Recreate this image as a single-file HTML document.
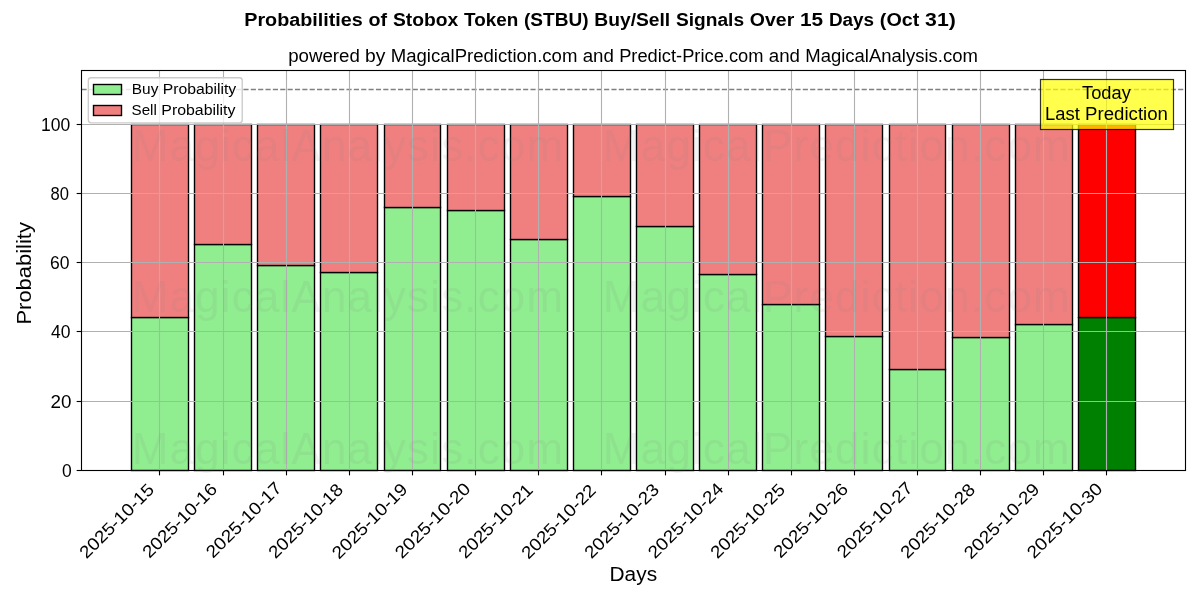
<!DOCTYPE html>
<html><head><meta charset="utf-8"><style>
html,body{margin:0;padding:0;background:#fff;}
svg{display:block;will-change:transform;}
text{font-family:"Liberation Sans", sans-serif;}
</style></head><body>
<svg width="1200" height="600" viewBox="0 0 1200 600">
<rect x="0" y="0" width="1200" height="600" fill="#fff"/>
<rect x="131.5" y="317.5" width="57" height="153" fill="#90ee90" stroke="#000" stroke-width="1.39"/>
<rect x="131.5" y="124.5" width="57" height="193" fill="#f08080" stroke="#000" stroke-width="1.39"/>
<rect x="194.5" y="244.5" width="57" height="226" fill="#90ee90" stroke="#000" stroke-width="1.39"/>
<rect x="194.5" y="124.5" width="57" height="120" fill="#f08080" stroke="#000" stroke-width="1.39"/>
<rect x="257.5" y="265.5" width="57" height="205" fill="#90ee90" stroke="#000" stroke-width="1.39"/>
<rect x="257.5" y="124.5" width="57" height="141" fill="#f08080" stroke="#000" stroke-width="1.39"/>
<rect x="320.5" y="272.5" width="57" height="198" fill="#90ee90" stroke="#000" stroke-width="1.39"/>
<rect x="320.5" y="124.5" width="57" height="148" fill="#f08080" stroke="#000" stroke-width="1.39"/>
<rect x="384.5" y="207.5" width="56" height="263" fill="#90ee90" stroke="#000" stroke-width="1.39"/>
<rect x="384.5" y="124.5" width="56" height="83" fill="#f08080" stroke="#000" stroke-width="1.39"/>
<rect x="447.5" y="210.5" width="57" height="260" fill="#90ee90" stroke="#000" stroke-width="1.39"/>
<rect x="447.5" y="124.5" width="57" height="86" fill="#f08080" stroke="#000" stroke-width="1.39"/>
<rect x="510.5" y="239.5" width="57" height="231" fill="#90ee90" stroke="#000" stroke-width="1.39"/>
<rect x="510.5" y="124.5" width="57" height="115" fill="#f08080" stroke="#000" stroke-width="1.39"/>
<rect x="573.5" y="196.5" width="57" height="274" fill="#90ee90" stroke="#000" stroke-width="1.39"/>
<rect x="573.5" y="124.5" width="57" height="72" fill="#f08080" stroke="#000" stroke-width="1.39"/>
<rect x="636.5" y="226.5" width="57" height="244" fill="#90ee90" stroke="#000" stroke-width="1.39"/>
<rect x="636.5" y="124.5" width="57" height="102" fill="#f08080" stroke="#000" stroke-width="1.39"/>
<rect x="699.5" y="274.5" width="57" height="196" fill="#90ee90" stroke="#000" stroke-width="1.39"/>
<rect x="699.5" y="124.5" width="57" height="150" fill="#f08080" stroke="#000" stroke-width="1.39"/>
<rect x="762.5" y="304.5" width="57" height="166" fill="#90ee90" stroke="#000" stroke-width="1.39"/>
<rect x="762.5" y="124.5" width="57" height="180" fill="#f08080" stroke="#000" stroke-width="1.39"/>
<rect x="825.5" y="336.5" width="57" height="134" fill="#90ee90" stroke="#000" stroke-width="1.39"/>
<rect x="825.5" y="124.5" width="57" height="212" fill="#f08080" stroke="#000" stroke-width="1.39"/>
<rect x="889.5" y="369.5" width="56" height="101" fill="#90ee90" stroke="#000" stroke-width="1.39"/>
<rect x="889.5" y="124.5" width="56" height="245" fill="#f08080" stroke="#000" stroke-width="1.39"/>
<rect x="952.5" y="337.5" width="57" height="133" fill="#90ee90" stroke="#000" stroke-width="1.39"/>
<rect x="952.5" y="124.5" width="57" height="213" fill="#f08080" stroke="#000" stroke-width="1.39"/>
<rect x="1015.5" y="324.5" width="57" height="146" fill="#90ee90" stroke="#000" stroke-width="1.39"/>
<rect x="1015.5" y="124.5" width="57" height="200" fill="#f08080" stroke="#000" stroke-width="1.39"/>
<rect x="1078.5" y="317.5" width="57" height="153" fill="#008000" stroke="#000" stroke-width="1.39"/>
<rect x="1078.5" y="124.5" width="57" height="193" fill="#ff0000" stroke="#000" stroke-width="1.39"/>
<line x1="81.5" y1="89.5" x2="1185.5" y2="89.5" stroke="#808080" stroke-width="1.39" stroke-dasharray="5.14 2.22"/>
<line x1="159.5" y1="70.5" x2="159.5" y2="470.5" stroke="#b0b0b0" stroke-width="1.11"/>
<line x1="223.5" y1="70.5" x2="223.5" y2="470.5" stroke="#b0b0b0" stroke-width="1.11"/>
<line x1="286.5" y1="70.5" x2="286.5" y2="470.5" stroke="#b0b0b0" stroke-width="1.11"/>
<line x1="349.5" y1="70.5" x2="349.5" y2="470.5" stroke="#b0b0b0" stroke-width="1.11"/>
<line x1="412.5" y1="70.5" x2="412.5" y2="470.5" stroke="#b0b0b0" stroke-width="1.11"/>
<line x1="475.5" y1="70.5" x2="475.5" y2="470.5" stroke="#b0b0b0" stroke-width="1.11"/>
<line x1="538.5" y1="70.5" x2="538.5" y2="470.5" stroke="#b0b0b0" stroke-width="1.11"/>
<line x1="601.5" y1="70.5" x2="601.5" y2="470.5" stroke="#b0b0b0" stroke-width="1.11"/>
<line x1="665.5" y1="70.5" x2="665.5" y2="470.5" stroke="#b0b0b0" stroke-width="1.11"/>
<line x1="728.5" y1="70.5" x2="728.5" y2="470.5" stroke="#b0b0b0" stroke-width="1.11"/>
<line x1="791.5" y1="70.5" x2="791.5" y2="470.5" stroke="#b0b0b0" stroke-width="1.11"/>
<line x1="854.5" y1="70.5" x2="854.5" y2="470.5" stroke="#b0b0b0" stroke-width="1.11"/>
<line x1="917.5" y1="70.5" x2="917.5" y2="470.5" stroke="#b0b0b0" stroke-width="1.11"/>
<line x1="980.5" y1="70.5" x2="980.5" y2="470.5" stroke="#b0b0b0" stroke-width="1.11"/>
<line x1="1043.5" y1="70.5" x2="1043.5" y2="470.5" stroke="#b0b0b0" stroke-width="1.11"/>
<line x1="1106.5" y1="70.5" x2="1106.5" y2="470.5" stroke="#b0b0b0" stroke-width="1.11"/>
<line x1="81.5" y1="470.5" x2="1185.5" y2="470.5" stroke="#b0b0b0" stroke-width="1.11"/>
<line x1="81.5" y1="401.5" x2="1185.5" y2="401.5" stroke="#b0b0b0" stroke-width="1.11"/>
<line x1="81.5" y1="331.5" x2="1185.5" y2="331.5" stroke="#b0b0b0" stroke-width="1.11"/>
<line x1="81.5" y1="262.5" x2="1185.5" y2="262.5" stroke="#b0b0b0" stroke-width="1.11"/>
<line x1="81.5" y1="193.5" x2="1185.5" y2="193.5" stroke="#b0b0b0" stroke-width="1.11"/>
<line x1="81.5" y1="124.5" x2="1185.5" y2="124.5" stroke="#b0b0b0" stroke-width="1.11"/>
<line x1="159.5" y1="470.5" x2="159.5" y2="475.36" stroke="#000" stroke-width="1.11"/>
<line x1="223.5" y1="470.5" x2="223.5" y2="475.36" stroke="#000" stroke-width="1.11"/>
<line x1="286.5" y1="470.5" x2="286.5" y2="475.36" stroke="#000" stroke-width="1.11"/>
<line x1="349.5" y1="470.5" x2="349.5" y2="475.36" stroke="#000" stroke-width="1.11"/>
<line x1="412.5" y1="470.5" x2="412.5" y2="475.36" stroke="#000" stroke-width="1.11"/>
<line x1="475.5" y1="470.5" x2="475.5" y2="475.36" stroke="#000" stroke-width="1.11"/>
<line x1="538.5" y1="470.5" x2="538.5" y2="475.36" stroke="#000" stroke-width="1.11"/>
<line x1="601.5" y1="470.5" x2="601.5" y2="475.36" stroke="#000" stroke-width="1.11"/>
<line x1="665.5" y1="470.5" x2="665.5" y2="475.36" stroke="#000" stroke-width="1.11"/>
<line x1="728.5" y1="470.5" x2="728.5" y2="475.36" stroke="#000" stroke-width="1.11"/>
<line x1="791.5" y1="470.5" x2="791.5" y2="475.36" stroke="#000" stroke-width="1.11"/>
<line x1="854.5" y1="470.5" x2="854.5" y2="475.36" stroke="#000" stroke-width="1.11"/>
<line x1="917.5" y1="470.5" x2="917.5" y2="475.36" stroke="#000" stroke-width="1.11"/>
<line x1="980.5" y1="470.5" x2="980.5" y2="475.36" stroke="#000" stroke-width="1.11"/>
<line x1="1043.5" y1="470.5" x2="1043.5" y2="475.36" stroke="#000" stroke-width="1.11"/>
<line x1="1106.5" y1="470.5" x2="1106.5" y2="475.36" stroke="#000" stroke-width="1.11"/>
<line x1="76.64" y1="470.5" x2="81.5" y2="470.5" stroke="#000" stroke-width="1.11"/>
<line x1="76.64" y1="401.5" x2="81.5" y2="401.5" stroke="#000" stroke-width="1.11"/>
<line x1="76.64" y1="331.5" x2="81.5" y2="331.5" stroke="#000" stroke-width="1.11"/>
<line x1="76.64" y1="262.5" x2="81.5" y2="262.5" stroke="#000" stroke-width="1.11"/>
<line x1="76.64" y1="193.5" x2="81.5" y2="193.5" stroke="#000" stroke-width="1.11"/>
<line x1="76.64" y1="124.5" x2="81.5" y2="124.5" stroke="#000" stroke-width="1.11"/>
<rect x="81.5" y="70.5" width="1104" height="400" fill="none" stroke="#000" stroke-width="1.11"/>
<rect x="1040.5" y="79.5" width="133" height="50" fill="#ffff00" fill-opacity="0.7" stroke="#000" stroke-opacity="0.8" stroke-width="1.2"/>
<rect x="88.35" y="77.78" width="153.88" height="45.06" rx="2.8" fill="#fff" fill-opacity="0.8" stroke="#cccccc" stroke-width="1.39"/>
<rect x="93.5" y="84.5" width="28" height="10" fill="#90ee90" stroke="#000" stroke-width="1.39"/>
<rect x="93.5" y="105.5" width="28" height="10" fill="#f08080" stroke="#000" stroke-width="1.39"/>
<g id="title" fill="#000" font-size="17.5" font-weight="bold">
<text x="244.25" y="25.55" textLength="118.53" lengthAdjust="spacingAndGlyphs">Probabilities</text>
<text x="368.55" y="25.55" textLength="18.62" lengthAdjust="spacingAndGlyphs">of</text>
<text x="392.95" y="25.55" textLength="65.27" lengthAdjust="spacingAndGlyphs">Stobox</text>
<text x="464" y="25.55" textLength="54.18" lengthAdjust="spacingAndGlyphs">Token</text>
<text x="523.96" y="25.55" textLength="64.57" lengthAdjust="spacingAndGlyphs">(STBU)</text>
<text x="594.31" y="25.55" textLength="75.93" lengthAdjust="spacingAndGlyphs">Buy/Sell</text>
<text x="676.01" y="25.55" textLength="68.1" lengthAdjust="spacingAndGlyphs">Signals</text>
<text x="749.89" y="25.55" textLength="44.37" lengthAdjust="spacingAndGlyphs">Over</text>
<text x="800.03" y="25.55" textLength="23.09" lengthAdjust="spacingAndGlyphs">15</text>
<text x="828.9" y="25.55" textLength="45.16" lengthAdjust="spacingAndGlyphs">Days</text>
<text x="879.84" y="25.55" textLength="39.46" lengthAdjust="spacingAndGlyphs">(Oct</text>
<text x="925.08" y="25.55" textLength="30.68" lengthAdjust="spacingAndGlyphs">31)</text>
</g>
<g id="sub" fill="#000" font-size="17.5">
<text x="288.15" y="61.6" textLength="71.66" lengthAdjust="spacingAndGlyphs">powered</text>
<text x="365.09" y="61.6" textLength="20.35" lengthAdjust="spacingAndGlyphs">by</text>
<text x="390.71" y="61.6" textLength="186.67" lengthAdjust="spacingAndGlyphs">MagicalPrediction.com</text>
<text x="582.66" y="61.6" textLength="31.22" lengthAdjust="spacingAndGlyphs">and</text>
<text x="619.15" y="61.6" textLength="144.33" lengthAdjust="spacingAndGlyphs">Predict-Price.com</text>
<text x="768.75" y="61.6" textLength="31.22" lengthAdjust="spacingAndGlyphs">and</text>
<text x="805.25" y="61.6" textLength="172.61" lengthAdjust="spacingAndGlyphs">MagicalAnalysis.com</text>
</g>
<text id="xlabel" x="609.5" y="581" font-size="20.42" textLength="47.58" lengthAdjust="spacingAndGlyphs" fill="#000">Days</text>
<text id="ylabel" transform="translate(31 324.5) rotate(-90)" x="0" y="0" font-size="20.42" textLength="102.38" lengthAdjust="spacingAndGlyphs" fill="#000">Probability</text>
<text id="xt0" transform="translate(86.5 559.5) rotate(-45)" x="0" y="0" font-size="17.5" textLength="97.09" lengthAdjust="spacingAndGlyphs" fill="#000">2025-10-15</text>
<text id="xt1" transform="translate(149.5 559) rotate(-45)" x="0" y="0" font-size="17.5" textLength="97.09" lengthAdjust="spacingAndGlyphs" fill="#000">2025-10-16</text>
<text id="xt2" transform="translate(213 559) rotate(-45)" x="0" y="0" font-size="17.5" textLength="98.88" lengthAdjust="spacingAndGlyphs" fill="#000">2025-10-17</text>
<text id="xt3" transform="translate(275.5 559.5) rotate(-45)" x="0" y="0" font-size="17.5" textLength="97.06" lengthAdjust="spacingAndGlyphs" fill="#000">2025-10-18</text>
<text id="xt4" transform="translate(339 560) rotate(-45)" x="0" y="0" font-size="17.5" textLength="98.56" lengthAdjust="spacingAndGlyphs" fill="#000">2025-10-19</text>
<text id="xt5" transform="translate(402 559.5) rotate(-45)" x="0" y="0" font-size="17.5" textLength="98.5" lengthAdjust="spacingAndGlyphs" fill="#000">2025-10-20</text>
<text id="xt6" transform="translate(465.5 559.5) rotate(-45)" x="0" y="0" font-size="17.5" textLength="96.96" lengthAdjust="spacingAndGlyphs" fill="#000">2025-10-21</text>
<text id="xt7" transform="translate(528.5 560) rotate(-45)" x="0" y="0" font-size="17.5" textLength="96.96" lengthAdjust="spacingAndGlyphs" fill="#000">2025-10-22</text>
<text id="xt8" transform="translate(591.5 559.5) rotate(-45)" x="0" y="0" font-size="17.5" textLength="97.06" lengthAdjust="spacingAndGlyphs" fill="#000">2025-10-23</text>
<text id="xt9" transform="translate(655 559.5) rotate(-45)" x="0" y="0" font-size="17.5" textLength="98.41" lengthAdjust="spacingAndGlyphs" fill="#000">2025-10-24</text>
<text id="xt10" transform="translate(717.5 559.5) rotate(-45)" x="0" y="0" font-size="17.5" textLength="97.09" lengthAdjust="spacingAndGlyphs" fill="#000">2025-10-25</text>
<text id="xt11" transform="translate(780.5 559) rotate(-45)" x="0" y="0" font-size="17.5" textLength="97.09" lengthAdjust="spacingAndGlyphs" fill="#000">2025-10-26</text>
<text id="xt12" transform="translate(844 559) rotate(-45)" x="0" y="0" font-size="17.5" textLength="98.88" lengthAdjust="spacingAndGlyphs" fill="#000">2025-10-27</text>
<text id="xt13" transform="translate(907.5 559.5) rotate(-45)" x="0" y="0" font-size="17.5" textLength="97.06" lengthAdjust="spacingAndGlyphs" fill="#000">2025-10-28</text>
<text id="xt14" transform="translate(971 560) rotate(-45)" x="0" y="0" font-size="17.5" textLength="98.56" lengthAdjust="spacingAndGlyphs" fill="#000">2025-10-29</text>
<text id="xt15" transform="translate(1034 559.5) rotate(-45)" x="0" y="0" font-size="17.5" textLength="98.5" lengthAdjust="spacingAndGlyphs" fill="#000">2025-10-30</text>
<text id="yt0" x="62" y="477" font-size="17.5" textLength="9.73" lengthAdjust="spacingAndGlyphs" fill="#000">0</text>
<text id="yt20" x="50.5" y="408" font-size="17.5" textLength="20.95" lengthAdjust="spacingAndGlyphs" fill="#000">20</text>
<text id="yt40" x="51" y="338" font-size="17.5" textLength="19.47" lengthAdjust="spacingAndGlyphs" fill="#000">40</text>
<text id="yt60" x="50" y="269" font-size="17.5" textLength="19.47" lengthAdjust="spacingAndGlyphs" fill="#000">60</text>
<text id="yt80" x="50.5" y="200" font-size="17.5" textLength="18.44" lengthAdjust="spacingAndGlyphs" fill="#000">80</text>
<text id="yt100" x="41" y="131" font-size="17.5" textLength="29.2" lengthAdjust="spacingAndGlyphs" fill="#000">100</text>
<g id="leg0" fill="#000" font-size="14.58">
<text x="131.8" y="93.85" textLength="26.55" lengthAdjust="spacingAndGlyphs">Buy</text>
<text x="162.77" y="93.85" textLength="73.43" lengthAdjust="spacingAndGlyphs">Probability</text>
</g>
<g id="leg1" fill="#000" font-size="14.58">
<text x="131.55" y="114.85" textLength="25.32" lengthAdjust="spacingAndGlyphs">Sell</text>
<text x="161.33" y="114.85" textLength="74.13" lengthAdjust="spacingAndGlyphs">Probability</text>
</g>
<text id="today" x="1082" y="98.8" font-size="17.5" textLength="48.8" lengthAdjust="spacingAndGlyphs" fill="#000">Today</text>
<g id="lastpred" fill="#000" font-size="17.5">
<text x="1045.1" y="120.25" textLength="34.71" lengthAdjust="spacingAndGlyphs">Last</text>
<text x="1085.11" y="120.25" textLength="82.79" lengthAdjust="spacingAndGlyphs">Prediction</text>
</g>
<text id="wm0" x="132" y="161" font-size="43.75" textLength="430.83" lengthAdjust="spacing" fill-opacity="0.1" fill="#808080">MagicalAnalysis.com</text>
<text id="wm1" x="603" y="161" font-size="43.75" textLength="466.54" lengthAdjust="spacing" fill-opacity="0.1" fill="#808080">MagicalPrediction.com</text>
<text id="wm2" x="132" y="311.5" font-size="43.75" textLength="430.83" lengthAdjust="spacing" fill-opacity="0.1" fill="#808080">MagicalAnalysis.com</text>
<text id="wm3" x="603" y="311.5" font-size="43.75" textLength="466.54" lengthAdjust="spacing" fill-opacity="0.1" fill="#808080">MagicalPrediction.com</text>
<text id="wm4" x="132" y="463.5" font-size="43.75" textLength="430.83" lengthAdjust="spacing" fill-opacity="0.1" fill="#808080">MagicalAnalysis.com</text>
<text id="wm5" x="603" y="463.5" font-size="43.75" textLength="466.54" lengthAdjust="spacing" fill-opacity="0.1" fill="#808080">MagicalPrediction.com</text>
</svg></body></html>
